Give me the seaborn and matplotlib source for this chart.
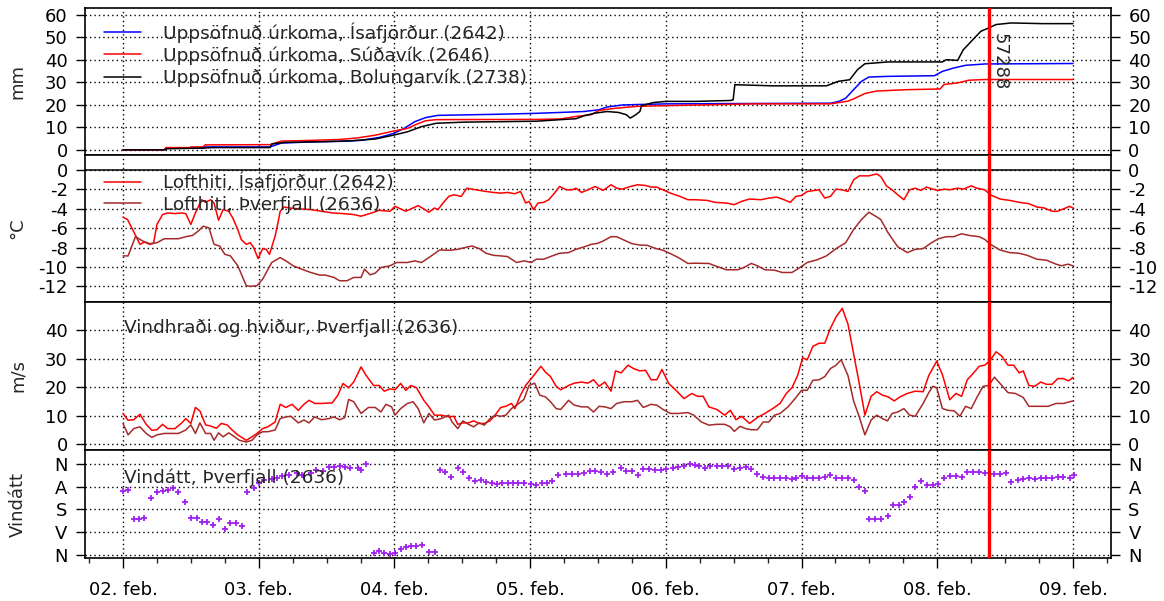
import matplotlib
matplotlib.use("Agg")
import matplotlib.pyplot as plt
from matplotlib.ticker import MultipleLocator
import pandas as pd
import seaborn as sns

# ---------------- data (hours after 02. feb. 00:00, value) ----------------
day_hours = [0, 24, 48, 72, 96, 120, 144, 168]
day_labels = ["02. feb.", "03. feb.", "04. feb.", "05. feb.", "06. feb.",
              "07. feb.", "08. feb.", "09. feb."]
marker_hour = 153.2
marker_label = "57288"

precip_isafjordur = [(0, 0), (7.3, 0), (7.6, 0.7), (14.2, 0.7), (14.5, 1.3), (26.0, 1.3), (28.0, 3.0),
    (33, 3.5), (38.9, 3.8), (42.1, 4.2), (45.3, 5.5), (47.8, 7.2), (49.7, 9.5), (51.6, 12.5),
    (53.5, 14.3), (55.7, 15.3), (60.1, 15.5), (66.5, 15.8), (73, 16.2), (77.4, 16.6), (81.5, 17.0),
    (84.2, 17.8), (85.6, 19.0), (88.3, 19.9), (91.0, 20.1), (96, 20.4), (125.1, 20.7), (126.5, 21.4),
    (127.8, 22.9), (129.2, 26.7), (130.6, 30.4), (131.9, 32.3), (135.3, 32.6), (143.5, 32.9),
    (144.9, 34.8), (146.9, 36.3), (149.0, 37.5), (152.4, 38.1), (168.0, 38.3)]
precip_sudavik = [(0, 0), (7.3, 0), (7.6, 1.0), (11.8, 1.0), (12.0, 1.3), (14.2, 1.3), (14.5, 2.2),
    (26.0, 2.3), (28.0, 3.9), (32.0, 4.1), (38.3, 4.6), (41.5, 5.3), (44.6, 6.5), (47.8, 8.3),
    (50.3, 9.5), (51.6, 11.0), (53.5, 12.9), (55.4, 13.4), (73, 13.5), (77.4, 13.7), (80.1, 14.8),
    (82.8, 15.6), (84.2, 17.5), (86.9, 18.4), (91.0, 19.3), (96, 19.6), (111.5, 20.4), (125.1, 20.4),
    (128.2, 21.6), (129.2, 22.6), (131.2, 25.0), (133.3, 26.1), (138.7, 26.7), (144.5, 27.0),
    (145.2, 29.0), (147.6, 29.7), (149.6, 30.9), (152.4, 31.2), (168.0, 31.2)]
precip_bolungarvik = [(0, 0), (7.3, 0), (7.9, 0.5), (14.2, 0.8), (16, 1.0), (26.0, 1.0), (26.3, 2.6),
    (28.5, 3.3), (35.1, 3.6), (40.2, 4.0), (44.6, 4.8), (47.8, 6.5), (50.3, 8.0), (52.8, 10.3),
    (55.4, 11.8), (60.4, 12.3), (66.8, 12.5), (73.1, 12.7), (77.4, 13.4), (80.1, 13.8), (81.5, 15.1),
    (83.5, 16.3), (85.6, 17.0), (87.6, 16.6), (89.0, 15.6), (89.7, 14.1), (90.7, 15.6), (91.4, 17.0),
    (91.7, 19.6), (93.8, 21.0), (96, 21.5), (101.2, 21.5), (107.4, 21.9), (107.9, 22.2), (108.2, 28.9),
    (114.9, 28.4), (124.4, 28.4), (126.5, 30.4), (128.5, 31.1), (129.9, 35.6), (131.2, 38.2),
    (135.3, 39.0), (144.9, 39.0), (145.6, 40.0), (147.6, 39.7), (148.6, 44.4), (150.3, 48.9),
    (151.7, 52.6), (153.1, 54.1), (154.4, 55.6), (157.1, 56.3), (162.6, 56.0), (168.0, 56.0)]

temp_isafjordur = [(0.0, -4.87), (0.8, -5.11), (1.7, -6.14), (3.0, -7.67), (3.8, -7.43), (4.7, -7.67),
    (5.4, -7.57), (6.0, -5.62), (7.0, -4.6), (7.9, -4.43), (9.2, -4.5), (10.4, -4.43), (11.1, -4.5),
    (12.0, -5.62), (12.8, -4.43), (13.9, -3.07), (14.6, -3.34), (15.5, -3.07), (16.1, -3.41),
    (16.9, -5.18), (17.7, -4.09), (18.7, -4.26), (19.4, -4.94), (20.3, -6.14), (20.9, -7.16),
    (21.8, -7.67), (22.5, -7.5), (23.1, -8.0), (23.9, -9.14), (24.7, -8.1), (25.3, -8.18),
    (25.9, -8.7), (26.9, -6.82), (27.4, -5.45), (27.8, -4.26), (28.5, -3.82), (29.4, -3.92),
    (31.3, -4.02), (33.2, -4.09), (35.1, -4.26), (37.0, -4.43), (38.9, -4.5), (40.8, -4.6),
    (42.1, -4.77), (44.0, -4.43), (45.3, -4.16), (47.2, -4.26), (48.1, -3.75), (49.1, -4.02),
    (50.0, -4.26), (50.9, -4.02), (52.2, -3.68), (53.2, -4.02), (54.1, -4.36), (55.1, -3.92),
    (55.7, -4.09), (56.6, -3.41), (57.6, -2.73), (58.5, -2.56), (59.8, -2.73), (60.8, -1.88),
    (61.7, -1.98), (63.0, -2.11), (64.2, -2.22), (65.5, -2.32), (66.8, -2.39), (68.0, -2.32),
    (69.3, -2.45), (70.3, -2.22), (71.2, -3.41), (71.8, -3.24), (72.6, -4.09), (73.4, -3.41),
    (74.4, -3.34), (75.3, -3.07), (76.3, -2.39), (77.2, -1.71), (78.4, -2.05), (79.4, -2.05),
    (80.1, -1.88), (81.1, -2.32), (82.2, -2.05), (83.5, -1.71), (84.9, -2.11), (86.3, -1.53),
    (87.3, -1.88), (88.3, -1.98), (89.7, -1.71), (91.0, -1.53), (92.4, -1.6), (93.4, -1.77),
    (94.4, -1.77), (95.5, -2.05), (96.8, -2.39), (98.5, -2.73), (99.9, -3.07), (101.2, -3.07),
    (103.3, -3.14), (104.7, -3.34), (106.7, -3.41), (108.1, -3.58), (109.4, -3.24), (110.8, -3.0),
    (112.8, -3.07), (114.2, -2.9), (115.6, -2.8), (116.9, -3.07), (118.0, -3.34), (119.0, -2.73),
    (120.0, -2.63), (121.0, -2.22), (122.4, -2.11), (123.1, -2.05), (124.1, -2.9), (125.1, -2.73),
    (126.1, -1.98), (127.2, -2.05), (128.2, -2.22), (129.2, -1.02), (130.2, -0.61), (131.9, -0.61),
    (133.3, -0.41), (134.0, -0.68), (135.0, -1.64), (136.0, -2.05), (137.0, -2.56), (138.1, -3.07),
    (139.1, -2.05), (140.1, -1.88), (141.1, -2.11), (142.1, -1.77), (143.2, -1.98), (144.2, -2.11),
    (145.2, -1.98), (146.2, -2.05), (147.6, -1.88), (148.6, -1.98), (150.0, -1.64), (151.0, -1.88),
    (152.4, -2.05), (153.4, -2.56), (155.1, -3.0), (156.8, -3.14), (158.5, -3.34), (160.2, -3.48),
    (161.6, -3.82), (162.9, -3.92), (164.3, -4.26), (165.3, -4.26), (166.3, -4.02), (167.4, -3.75),
    (168.0, -3.92)]
temp_thverfjall = [(0.0, -8.86), (0.9, -8.86), (2.2, -6.88), (3.5, -7.33), (4.7, -7.6), (6.0, -7.5),
    (7.3, -7.09), (8.5, -7.09), (9.8, -7.09), (11.1, -6.88), (12.3, -6.75), (13.3, -6.3), (14.2, -5.8),
    (15.2, -5.97), (16.1, -7.67), (17.1, -7.84), (18.0, -8.69), (19.0, -8.86), (20.3, -9.88),
    (21.8, -11.93), (22.5, -12.0), (23.7, -11.93), (24.7, -11.25), (26.3, -9.54), (27.8, -9.03),
    (28.8, -9.37), (30.1, -9.88), (31.6, -10.23), (33.2, -10.57), (34.8, -10.84), (35.8, -10.84),
    (37.3, -11.08), (38.3, -11.42), (39.6, -11.42), (40.8, -11.08), (42.1, -11.08), (42.7, -10.23),
    (43.7, -10.81), (44.6, -10.64), (45.6, -10.06), (47.2, -9.88), (48.4, -9.54), (50.3, -9.54),
    (51.6, -9.37), (52.8, -9.54), (54.1, -9.03), (56.0, -8.25), (57.9, -8.28), (59.2, -8.18),
    (60.4, -8.01), (61.7, -7.84), (63.0, -8.11), (64.2, -8.59), (65.5, -8.8), (66.8, -8.86),
    (68.0, -8.93), (69.6, -9.54), (70.9, -9.37), (72.2, -9.54), (73.1, -9.2), (74.4, -9.2),
    (75.9, -8.86), (77.2, -8.59), (78.8, -8.52), (80.1, -8.18), (81.5, -7.94), (82.8, -7.67),
    (83.9, -7.57), (84.9, -7.33), (86.3, -6.88), (87.3, -6.88), (88.6, -7.23), (90.0, -7.6),
    (91.4, -7.74), (92.7, -7.77), (94.1, -8.08), (95.5, -8.28), (96.8, -8.62), (98.2, -9.03),
    (99.9, -9.64), (101.2, -9.61), (103.6, -9.64), (104.7, -9.88), (106.7, -10.29), (108.7, -10.29),
    (109.8, -10.06), (111.1, -9.64), (112.2, -9.88), (113.5, -10.29), (115.2, -10.33), (116.6, -10.57),
    (118.3, -10.57), (119.7, -10.06), (121.0, -9.54), (122.7, -9.27), (124.4, -8.86), (126.1, -8.11),
    (127.8, -7.5), (129.2, -6.14), (130.6, -5.11), (131.9, -4.36), (132.9, -4.7), (134.0, -5.11),
    (135.3, -6.48), (137.0, -7.91), (138.7, -8.52), (140.1, -8.18), (141.5, -8.11), (142.8, -7.57),
    (144.2, -7.09), (145.6, -6.88), (146.9, -6.88), (148.3, -6.58), (149.6, -6.75), (151.4, -6.88),
    (152.4, -7.16), (153.4, -7.67), (155.1, -8.25), (156.8, -8.52), (158.5, -8.59), (159.9, -8.8),
    (161.6, -9.2), (163.3, -9.3), (165.0, -9.71), (166.0, -9.88), (167.1, -9.71), (168.0, -9.88)]

wind_gust = [(0.0, 10.8), (0.9, 8.4), (1.9, 8.6), (3.0, 10.5), (4.1, 7.0), (5.1, 4.9), (6.0, 5.1),
    (7.0, 7.0), (7.9, 5.5), (9.2, 5.5), (10.4, 7.5), (11.1, 9.0), (12.0, 7.3), (12.8, 12.9), (13.6, 11.7),
    (14.6, 6.8), (15.5, 6.4), (16.5, 5.6), (17.4, 7.3), (18.4, 6.8), (19.3, 5.0), (20.3, 3.3), (21.8, 1.4),
    (22.8, 2.6), (23.7, 3.8), (24.7, 5.5), (25.6, 6.1), (26.9, 7.8), (27.8, 14.0), (28.8, 12.9),
    (29.9, 14.0), (31.0, 11.9), (32.0, 14.0), (32.9, 15.4), (33.9, 14.3), (35.1, 14.3), (37.0, 14.5),
    (38.0, 17.2), (38.9, 21.3), (39.9, 19.8), (40.8, 21.8), (42.1, 27.1), (43.0, 24.1), (44.3, 20.6),
    (45.3, 20.6), (46.2, 18.6), (47.2, 19.4), (48.1, 19.1), (49.1, 21.3), (50.0, 18.9), (50.9, 20.6),
    (51.9, 19.8), (53.2, 15.4), (54.1, 13.1), (55.1, 10.2), (56.3, 10.2), (57.6, 9.6), (58.5, 9.8),
    (59.2, 7.0), (60.1, 7.5), (61.1, 7.5), (62.0, 8.2), (63.0, 7.3), (63.9, 7.3), (64.9, 8.2),
    (65.8, 10.2), (66.8, 12.9), (67.7, 13.3), (68.7, 14.3), (69.3, 12.5), (70.3, 17.2), (71.2, 20.6),
    (72.2, 23.0), (73.1, 25.3), (73.9, 27.3), (74.7, 25.3), (75.6, 23.7), (76.6, 20.3), (77.4, 19.1),
    (78.8, 20.6), (79.8, 21.4), (81.1, 21.8), (82.2, 21.4), (83.2, 22.6), (84.2, 20.3), (85.2, 21.8),
    (86.3, 18.6), (87.1, 25.7), (88.1, 25.0), (89.3, 27.7), (90.3, 26.5), (91.4, 25.7), (92.4, 25.9),
    (93.4, 22.6), (94.4, 22.6), (95.3, 26.2), (96.5, 21.3), (97.8, 18.9), (99.2, 16.0), (100.6, 17.8),
    (101.6, 16.8), (102.6, 16.8), (103.6, 13.1), (105.0, 12.2), (106.4, 10.2), (107.4, 11.9),
    (108.4, 8.6), (109.4, 9.8), (110.8, 7.3), (112.2, 9.4), (113.5, 10.8), (114.9, 12.5), (116.2, 14.3),
    (117.3, 17.8), (118.3, 19.8), (119.3, 24.1), (120.2, 30.3), (121.0, 29.6), (122.0, 34.3),
    (123.1, 35.4), (124.1, 35.4), (125.1, 40.6), (126.1, 44.6), (127.2, 47.6), (128.2, 42.1),
    (129.2, 31.8), (130.2, 21.3), (131.2, 10.2), (132.3, 16.8), (133.3, 18.4), (134.3, 17.2),
    (135.3, 16.6), (136.4, 15.2), (137.4, 16.6), (138.7, 17.8), (140.1, 18.6), (141.5, 18.4),
    (142.5, 24.1), (143.9, 29.1), (144.9, 24.4), (146.2, 15.6), (147.3, 17.8), (148.3, 16.8),
    (149.3, 22.6), (150.3, 24.7), (151.4, 27.3), (152.4, 27.7), (153.4, 29.5), (154.4, 32.4),
    (155.4, 30.9), (156.5, 27.7), (157.5, 27.7), (158.5, 25.0), (159.2, 25.7), (160.2, 20.6),
    (161.2, 20.3), (162.3, 21.8), (163.3, 21.0), (164.3, 21.0), (165.3, 23.0), (166.3, 23.0),
    (167.2, 22.2), (168.0, 23.4)]
wind_speed = [(0.0, 7.3), (0.9, 3.3), (1.9, 5.5), (3.0, 6.1), (4.1, 3.8), (5.1, 2.4), (6.0, 3.3),
    (7.3, 3.8), (8.5, 3.8), (9.8, 3.8), (11.1, 5.0), (12.0, 6.8), (12.8, 3.8), (13.6, 7.5), (14.6, 3.8),
    (15.5, 3.8), (16.1, 1.4), (16.9, 4.0), (17.7, 2.6), (18.7, 4.0), (19.6, 2.8), (20.6, 1.4),
    (21.8, 0.8), (22.8, 1.4), (23.7, 3.3), (24.7, 4.4), (25.6, 4.4), (26.9, 5.0), (27.8, 9.0),
    (28.8, 9.6), (29.7, 9.8), (31.0, 7.5), (32.0, 8.5), (32.9, 7.5), (33.9, 9.6), (35.1, 8.6),
    (36.4, 9.0), (37.3, 9.6), (38.3, 8.6), (39.2, 9.3), (39.9, 15.7), (40.8, 14.9), (42.1, 10.8),
    (43.4, 12.9), (44.6, 12.9), (45.6, 11.3), (46.5, 14.0), (47.5, 13.1), (48.1, 10.2), (49.1, 12.5),
    (50.3, 14.3), (51.3, 14.9), (52.2, 12.5), (53.2, 7.5), (54.1, 10.8), (55.1, 8.5), (56.3, 9.0),
    (57.6, 10.2), (58.2, 7.8), (59.2, 5.5), (60.1, 8.2), (61.1, 7.0), (62.0, 6.1), (63.0, 7.5),
    (63.9, 6.7), (64.9, 9.0), (65.8, 10.2), (66.8, 9.8), (67.7, 10.2), (68.7, 12.5), (70.0, 14.3),
    (70.9, 15.7), (71.8, 20.6), (72.8, 21.4), (73.7, 17.2), (74.7, 16.6), (75.6, 14.9), (76.6, 12.5),
    (77.4, 12.2), (78.8, 15.4), (79.8, 13.7), (81.1, 13.1), (82.2, 13.1), (83.2, 11.3), (84.2, 13.3),
    (85.2, 13.1), (86.3, 12.5), (87.3, 14.3), (88.6, 14.9), (90.0, 14.9), (91.0, 15.4), (92.0, 12.9),
    (93.4, 14.0), (94.4, 13.7), (95.5, 12.2), (96.8, 10.8), (98.2, 10.8), (99.9, 11.1), (100.9, 10.2),
    (102.3, 7.8), (103.6, 6.7), (105.0, 7.0), (106.4, 7.0), (107.4, 6.1), (108.1, 4.5), (109.1, 6.3),
    (110.1, 5.5), (111.1, 5.1), (112.2, 5.1), (113.2, 7.8), (114.2, 7.8), (115.2, 10.2), (116.2, 10.8),
    (117.6, 13.1), (118.6, 15.4), (120.0, 18.9), (121.0, 18.9), (122.0, 22.4), (123.1, 22.6),
    (124.1, 23.7), (125.1, 26.5), (126.1, 27.7), (127.0, 29.6), (128.2, 24.1), (129.2, 15.2),
    (130.2, 9.6), (131.2, 3.3), (132.3, 8.5), (133.3, 10.2), (134.3, 9.0), (135.2, 8.2), (136.0, 10.8),
    (137.0, 11.3), (138.1, 12.5), (139.1, 10.2), (140.1, 9.8), (141.5, 14.3), (142.5, 18.1),
    (143.2, 20.3), (143.9, 19.8), (144.9, 12.5), (145.9, 11.9), (147.0, 11.7), (148.0, 9.8),
    (149.0, 13.3), (150.0, 12.5), (151.0, 16.4), (152.1, 20.3), (153.1, 20.6), (154.1, 23.5),
    (155.1, 21.3), (156.5, 18.1), (157.8, 17.8), (159.2, 16.4), (160.2, 13.3), (161.9, 13.3),
    (163.6, 13.3), (165.0, 14.3), (166.3, 14.3), (167.4, 14.9), (168.0, 15.2)]

wind_dir = [(0.0, 109), (0.9, 103), (1.9, 218), (2.8, 218), (3.8, 212), (4.9, 133), (6.0, 112),
    (7.0, 107), (7.9, 103), (8.9, 96), (9.8, 112), (10.9, 149), (12.0, 215), (13.0, 215), (13.9, 228),
    (14.9, 228), (16.0, 241), (16.9, 218), (18.0, 257), (19.0, 235), (19.9, 235), (21.1, 244),
    (22.0, 112), (23.1, 96), (24.1, 76), (25.0, 63), (26.3, 59), (27.2, 57), (28.2, 46), (29.4, 44),
    (30.7, 37), (31.6, 44), (33.2, 37), (34.2, 24), (35.4, 28), (36.4, 11), (37.3, 11), (38.3, 7),
    (39.2, 11), (40.2, 17), (41.5, 17), (42.1, 24), (43.0, 1), (44.3, 353), (45.3, 344), (46.2, 353),
    (47.2, 357), (48.1, 353), (49.1, 336), (50.0, 327), (50.9, 323), (51.9, 323), (52.8, 320),
    (54.1, 349), (55.1, 349), (56.0, 24), (57.0, 30), (58.0, 50), (59.2, 17), (60.1, 30), (61.1, 54),
    (62.3, 67), (63.3, 63), (64.2, 73), (65.2, 76), (66.1, 80), (67.1, 76), (68.0, 76), (69.0, 76),
    (69.9, 76), (70.9, 76), (72.2, 80), (73.1, 83), (74.1, 76), (75.0, 76), (75.9, 67), (76.9, 44),
    (78.4, 41), (79.4, 41), (80.5, 41), (81.5, 37), (82.5, 28), (83.5, 28), (84.5, 30), (85.6, 41),
    (86.6, 33), (88.0, 17), (89.0, 28), (90.0, 28), (91.0, 44), (92.0, 20), (93.1, 20), (94.1, 24),
    (95.1, 24), (96.1, 20), (97.2, 17), (98.2, 11), (99.2, 7), (100.2, 1), (101.2, 4), (101.9, 7),
    (103.0, 15), (103.8, 7), (105.0, 7), (106.0, 7), (107.0, 7), (108.1, 20), (109.1, 15), (110.1, 11),
    (111.1, 20), (112.2, 41), (113.2, 50), (114.2, 54), (115.2, 54), (116.2, 57), (117.3, 57),
    (118.3, 59), (119.1, 54), (120.0, 46), (121.0, 54), (122.0, 57), (123.1, 54), (124.1, 50),
    (125.1, 44), (126.1, 57), (127.2, 57), (128.2, 54), (129.2, 63), (130.2, 90), (131.2, 109),
    (131.9, 218), (132.9, 218), (134.0, 218), (135.2, 204), (136.2, 162), (137.2, 162), (138.2, 152),
    (139.1, 129), (140.1, 90), (141.1, 67), (142.1, 83), (143.2, 83), (144.2, 80), (145.2, 54),
    (146.2, 46), (147.3, 46), (148.3, 50), (149.3, 30), (150.3, 30), (151.4, 33), (152.4, 37),
    (154.1, 41), (155.1, 41), (156.1, 37), (157.1, 70), (158.2, 63), (159.2, 59), (160.2, 57),
    (161.2, 59), (162.3, 57), (163.3, 57), (164.3, 54), (165.3, 50), (166.3, 50), (167.4, 57),
    (168.2, 44)]
dir_ticks = [0, 90, 180, 270, 360]
dir_labels = ["N", "A", "S", "V", "N"]

# ---------------- style ----------------
sns.set_style("white")
plt.rcParams["font.family"] = ["DejaVu Sans"]
plt.rcParams["axes.unicode_minus"] = False
FS = 13
C_BLUE, C_RED, C_BLACK, C_BROWN, C_PURPLE = "#0000FF", "#FF0000", "#000000", "#A52A2A", "#A020F0"


def frame(pairs):
    return pd.DataFrame(pairs, columns=["h", "v"])


fig = plt.figure(figsize=(11.64, 6.01), dpi=100)
W, H = 1164.0, 601.0
L, R = 85 / W, 1111 / W
bounds = [(8.3, 154.8), (154.8, 301.5), (301.5, 450.0), (450.0, 558.3)]
axes = [fig.add_axes([L, 1 - b / H, R - L, (b - t) / H]) for t, b in bounds]
ax1, ax2, ax3, ax4 = axes

grid_style = dict(color="black", linestyle=(0, (1, 2.2)), linewidth=1.0)
for ax in axes:
    ax.set_xlim(-6.72, 174.72)
    ax.set_xticks(day_hours)
    ax.set_axisbelow(True)
    ax.grid(True, which="major", **grid_style)
    for s in ax.spines.values():
        s.set_color("black")
        s.set_linewidth(1.2)
    ax.tick_params(axis="y", direction="out", length=6.5, width=1.0, labelsize=FS,
                   left=True, right=True, labelleft=True, labelright=True, pad=6, colors="black")
    ax.tick_params(axis="x", length=0, labelbottom=False)
    ax.yaxis.set_label_coords(-0.057, 0.5)

# panel 1: cumulative precipitation
for data, col, lab in [(precip_isafjordur, C_BLUE, "Uppsöfnuð úrkoma, Ísafjörður (2642)"),
                       (precip_sudavik, C_RED, "Uppsöfnuð úrkoma, Súðavík (2646)"),
                       (precip_bolungarvik, C_BLACK, "Uppsöfnuð úrkoma, Bolungarvík (2738)")]:
    sns.lineplot(data=frame(data), x="h", y="v", ax=ax1, color=col, lw=1.1,
                 estimator=None, label=lab)
ax1.set_ylim(-2.2, 62.8)
ax1.set_yticks(range(0, 61, 10))
ax1.set_ylabel("mm", fontsize=FS)
ax1.legend(loc="upper left", bbox_to_anchor=(0.019, 0.905), frameon=False, fontsize=FS + 0.3,
           handlelength=2.0, handletextpad=1.15, labelspacing=0.2, borderpad=0, borderaxespad=0)
ax1.text(155.0, 52.0, marker_label, rotation=-90, ha="center", va="top", fontsize=FS)

# panel 2: temperature
for data, col, lab in [(temp_isafjordur, C_RED, "Lofthiti, Ísafjörður (2642)"),
                       (temp_thverfjall, C_BROWN, "Lofthiti, Þverfjall (2636)")]:
    sns.lineplot(data=frame(data), x="h", y="v", ax=ax2, color=col, lw=1.1,
                 estimator=None, label=lab)
ax2.axhline(0, color="black", lw=1.1)
ax2.set_ylim(-13.56, 1.56)
ax2.set_yticks(range(-12, 1, 2))
ax2.set_ylabel("°C", fontsize=FS)
ax2.legend(loc="upper left", bbox_to_anchor=(0.019, 0.885), frameon=False, fontsize=FS + 0.3,
           handlelength=2.0, handletextpad=1.15, labelspacing=0.2, borderpad=0, borderaxespad=0)

# panel 3: wind speed and gusts
sns.lineplot(data=frame(wind_gust), x="h", y="v", ax=ax3, color=C_RED, lw=1.1, estimator=None)
sns.lineplot(data=frame(wind_speed), x="h", y="v", ax=ax3, color=C_BROWN, lw=1.1, estimator=None)
ax3.set_ylim(-2.0, 50.0)
ax3.set_yticks(range(0, 41, 10))
ax3.set_ylabel("m/s", fontsize=FS)
ax3.text(0.038, 0.822, "Vindhraði og hviður, Þverfjall (2636)", transform=ax3.transAxes,
         ha="left", va="center", fontsize=FS + 0.3)

# panel 4: wind direction
sns.scatterplot(data=frame(wind_dir), x="h", y="v", ax=ax4, color=C_PURPLE, marker="+",
                s=16, linewidth=1.3)
ax4.set_ylim(373, -55)
ax4.set_yticks(dir_ticks)
ax4.set_yticklabels(dir_labels)
ax4.set_ylabel("Vindátt", fontsize=FS)
ax4.text(0.038, 0.741, "Vindátt, Þverfjall (2636)", transform=ax4.transAxes,
         ha="left", va="center", fontsize=FS + 0.3)
ax4.set_xticks(day_hours)
ax4.set_xticklabels(day_labels)
ax4.xaxis.set_minor_locator(MultipleLocator(6))
ax4.tick_params(axis="x", which="major", direction="out", length=7, width=1.0, bottom=True,
                labelbottom=True, labelsize=FS, pad=9, colors="black")
ax4.tick_params(axis="x", which="minor", direction="out", length=3.5, width=1.0, bottom=True)

for ax in axes:
    ax.set_xlabel("")
    ax.axvline(marker_hour, color=C_RED, lw=2.4, zorder=10)

fig.savefig("out.png", dpi=100)
